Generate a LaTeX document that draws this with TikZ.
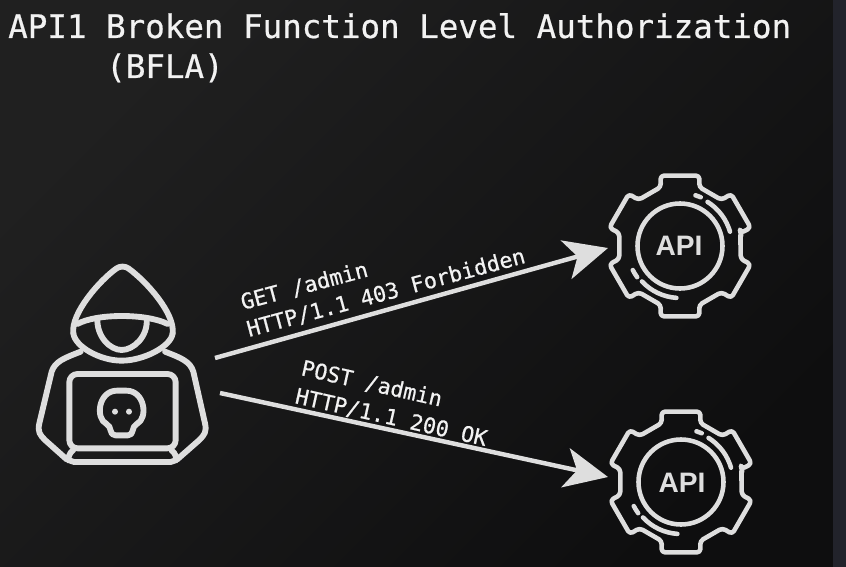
\documentclass[tikz,border=0pt]{standalone}
\usepackage{fontspec}
\setmonofont{DejaVu Sans Mono}[FakeBold=0.6]
\setsansfont{Liberation Sans}
\usetikzlibrary{arrows.meta}
\definecolor{bgdark}{HTML}{0E0E0F}
\definecolor{bgmid}{HTML}{111112}
\definecolor{bglight}{HTML}{202020}
\definecolor{bgstrip}{HTML}{22232B}
\definecolor{iconline}{HTML}{DEDEDE}
\definecolor{titletext}{HTML}{F2F2F2}
\tikzset{
  apigear/.pic={
    \begin{scope}[yscale=-1,iconline,line width=3.9pt,line join=round,line cap=round]
      \draw[rounded corners=3pt] (13:62)
        \foreach \a in {0,60,...,300} {
          -- (\a+12:62) -- (\a+14.5:73) -- (\a+45.5:73) -- (\a+48:62)
        } -- cycle;
      \draw (0,0) circle (42.5);
      \draw (16:52) arc[start angle=16,end angle=58,radius=52];
      \draw (67:53) arc[start angle=67,end angle=73,radius=53];
      \draw (223:52) arc[start angle=223,end angle=266,radius=52];
      \draw (207:53) arc[start angle=207,end angle=216,radius=53];
    \end{scope}
  },
  hooded/.pic={
    \begin{scope}[iconline,line width=5pt,line join=round,line cap=round]
      \draw (160,250) .. controls (152,190) and (240,90) .. (290,55) .. controls (300,48) and (315,48) .. (325,55) .. controls (380,95) and (465,190) .. (458,250);
      \draw (172,222) .. controls (230,190) and (380,190) .. (443,222);
      \draw (160,250) .. controls (165,290) and (240,332) .. (305,332) .. controls (370,332) and (453,290) .. (458,250);
      \draw (232,205) .. controls (230,260) and (270,300) .. (305,300) .. controls (340,300) and (385,260) .. (380,205);
      \draw (182,305) .. controls (130,325) and (105,335) .. (95,365) -- (58,520) .. controls (52,545) and (60,555) .. (75,570) -- (140,628);
      \draw (435,305) .. controls (487,325) and (510,335) .. (520,365) -- (555,520) .. controls (561,545) and (553,555) .. (538,570) -- (472,628);
      \draw[rounded corners=7pt] (148,595) -- (148,372) -- (467,372) -- (467,595) -- cycle;
      \draw[rounded corners=4pt] (160,600) -- (142,618) -- (148,636) -- (466,636) -- (472,618) -- (454,600);
      \draw[rounded corners=4pt] (272,528) .. controls (225,505) and (235,422) .. (305,422) .. controls (375,422) and (385,505) .. (338,528) -- (338,556) -- (272,556) -- cycle;
      \fill (285,485) circle (9);
      \fill (327,485) circle (9);
    \end{scope}
  }
}
\begin{document}
\begin{tikzpicture}[x=0.03cm,y=-0.03cm,
  flow/.style={iconline,line width=3.8pt,-{Stealth[length=37pt,width=34pt,inset=10pt]}},
  heading/.style={anchor=base west,inner sep=0pt,text=titletext,font=\ttfamily\fontsize{27.75}{30}\selectfont},
  reqtext/.style={anchor=base west,inner sep=0pt,text=titletext,font=\ttfamily\fontsize{18.5}{20}\selectfont},
  apilabel/.style={inner sep=0pt,text=iconline,font=\sffamily\bfseries\fontsize{24}{26}\selectfont}]
\shade[top color=bglight,middle color=bgmid,bottom color=bgdark,shading angle=45] (0,0) rectangle (846,567);
\fill[bgstrip] (833,0) rectangle (846,567);
\useasboundingbox (0,0) rectangle (846,567);
\node[heading] (titleone) at (8,38) {API1 Broken Function Level Authorization};
\node[heading] (titletwo) at (106,78) {(BFLA)};
\pic at (20,250) [scale=1/3] {hooded};
\pic at (680,246) {apigear};
\pic at (681,482) {apigear};
\node[apilabel] (apitop) at (679,246) {API};
\node[apilabel] (apibottom) at (682,483) {API};
\coordinate (getstart) at (215,358);
\coordinate (gettip) at (608,248);
\coordinate (poststart) at (220,393);
\coordinate (posttip) at (608,477);
\draw[flow] (getstart) -- (gettip);
\draw[flow] (poststart) -- (posttip);
\node[reqtext,rotate=15] (getreq) at (243,310) {GET /admin};
\node[reqtext,rotate=15] (getresp) at (249,337) {HTTP/1.1 403 Forbidden};
\node[reqtext,rotate=-12.7] (postreq) at (300,375) {POST /admin};
\node[reqtext,rotate=-12.7] (postresp) at (294,403) {HTTP/1.1 200 OK};
\end{tikzpicture}
\end{document}
